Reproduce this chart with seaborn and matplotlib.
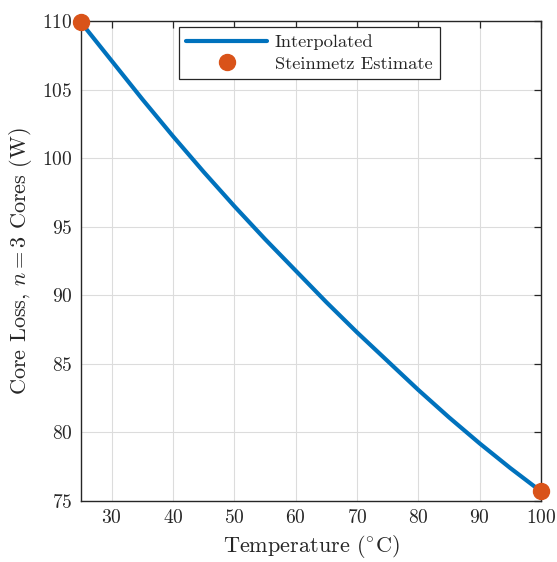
import numpy as np
import pandas as pd
import matplotlib
matplotlib.use("Agg")
import matplotlib.pyplot as plt
import seaborn as sns

# datos
temperatura = [25, 30, 35, 40, 45, 50, 55, 60, 65, 70, 75, 80, 85, 90, 95, 100]
perdida = [109.9, 107.1, 104.3, 101.6, 99.0, 96.5, 94.1, 91.8, 89.5, 87.3,
           85.2, 83.1, 81.1, 79.2, 77.4, 75.7]
temp_steinmetz = [25, 100]
perdida_steinmetz = [109.9, 75.7]

x_ticks = [30, 40, 50, 60, 70, 80, 90, 100]
y_ticks = [75, 80, 85, 90, 95, 100, 105, 110]

sns.set_style("white")
plt.rcParams['font.family'] = ['cmr10', 'DejaVu Serif']
plt.rcParams['mathtext.fontset'] = 'cm'
plt.rcParams['axes.formatter.use_mathtext'] = True

df = pd.DataFrame({'T': temperatura, 'P': perdida})

fig = plt.figure(figsize=(5.57, 5.62), dpi=100)
ax = fig.add_axes([0.1454, 0.1085, 0.8259, 0.8541])

sns.lineplot(data=df, x='T', y='P', ax=ax, color='#0072BD', linewidth=3.0,
             label='Interpolated', zorder=3)
ax.plot(temp_steinmetz, perdida_steinmetz, 'o', color='#D95319', markersize=11.5,
        label='Steinmetz Estimate', clip_on=False, zorder=4)

ax.set_xlim(25, 100)
ax.set_ylim(75, 110)
ax.set_xticks(x_ticks)
ax.set_yticks(y_ticks)
ax.grid(True, color='#dcdcdc', linewidth=0.8)
ax.tick_params(direction='in', length=5, width=0.9, top=True, right=True,
               labelsize=14, colors='#262626', pad=6)
for s in ax.spines.values():
    s.set_color('#262626')
    s.set_linewidth(1.0)

ax.set_xlabel(r'Temperature ($^{\circ}$C)', fontsize=16, color='#262626', labelpad=4)
ax.set_ylabel(r'Core Loss, $n = 3$ Cores (W)', fontsize=16, color='#262626', labelpad=6)

leg = ax.legend(loc='upper center', bbox_to_anchor=(0.496, 0.9875), borderaxespad=0,
                fontsize=13.3, frameon=True, fancybox=False, framealpha=1,
                edgecolor='#262626', borderpad=0.4, handlelength=4.4,
                labelspacing=0.3, handletextpad=0.4)
leg.get_frame().set_linewidth(0.9)

fig.savefig('out.png', dpi=100)
